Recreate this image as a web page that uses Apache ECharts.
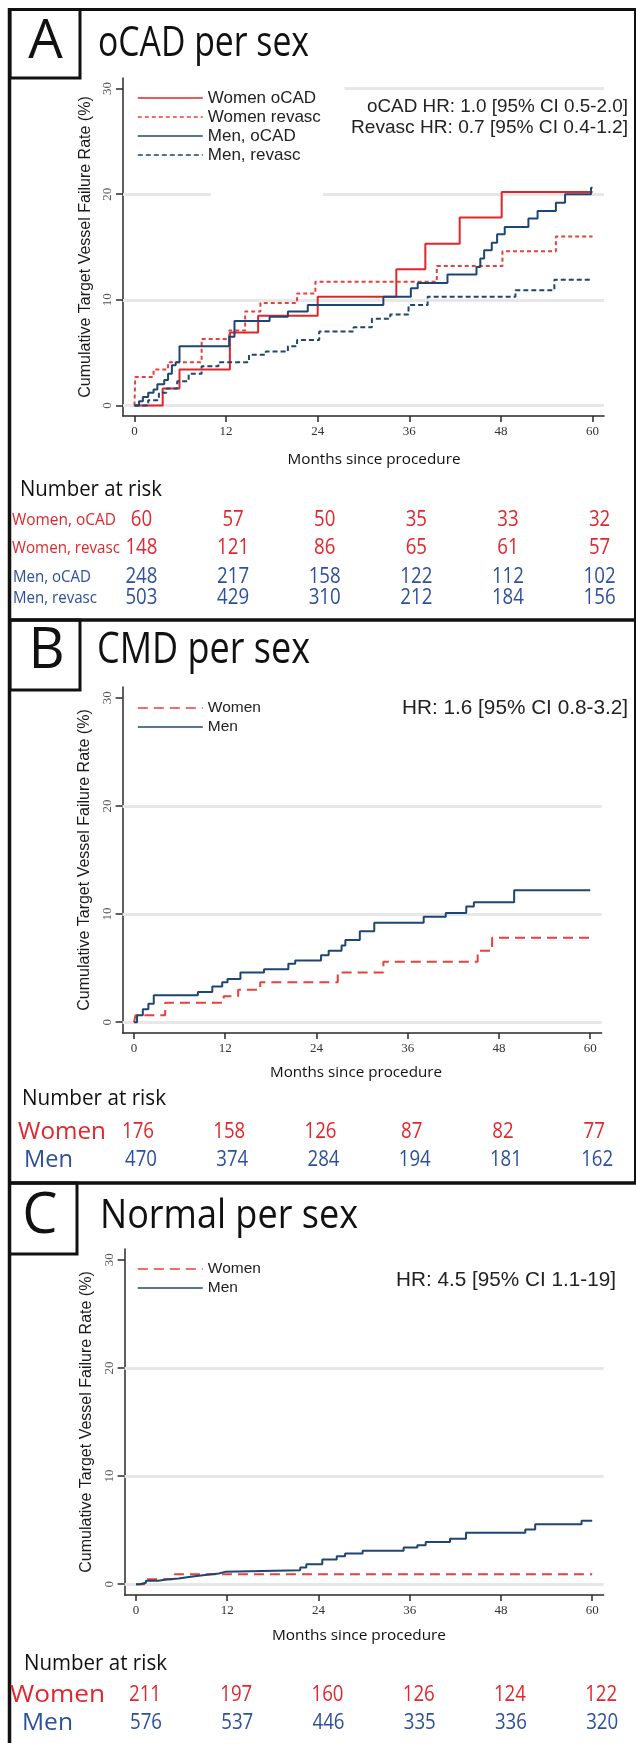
<!DOCTYPE html>
<html><head><meta charset="utf-8">
<script src="https://cdn.jsdelivr.net/npm/echarts@6/dist/echarts.min.js"></script>
<style>html,body{margin:0;padding:0;background:#fff}#c{width:636px;height:1743px}</style>
</head><body><div id="c"></div>
<script>
// ---------- DATA ----------
const monthTicks = [0, 12, 24, 36, 48, 60];
const rateTicks = [0, 10, 20, 30];

// Panel A (oCAD per sex) — [month, cumulative %]
const A_womenOCAD = [[0,0],[3.7,1.6],[5.9,3.4],[12.5,6.9],[16.2,8.5],[24,10.3],[34.3,12.9],[38.1,15.3],[42.6,17.8],[48.1,20.2],[60,20.2]];
const A_womenRevasc = [[0,0],[0.1,2.7],[2.5,3.4],[4.4,4.1],[8.8,6.3],[12.4,7.1],[14.5,8.9],[16.5,9.7],[21.3,10.6],[23.7,11.7],[39.6,13.2],[48.2,14.6],[55.2,16.0],[60,16.0]];
const A_menOCAD = [[0,0],[0.6,0.4],[1.1,0.8],[1.8,1.2],[2.5,1.5],[3.0,2.0],[3.9,2.4],[4.4,3.0],[4.9,3.8],[5.4,4.1],[5.9,5.6],[12.4,6.5],[13.1,8.0],[17.7,8.4],[20.1,8.9],[22.7,9.5],[32.6,10.3],[36.2,11.1],[37.1,11.6],[41.0,12.4],[44.8,13.1],[45.3,13.9],[45.8,14.7],[46.8,15.4],[47.5,16.2],[48.5,16.9],[51.6,17.7],[52.8,18.4],[55.2,19.2],[56.4,20.0],[59.8,20.6],[60,20.6]];
const A_menRevasc = [[0,0],[1.8,0.5],[3.2,1.2],[4.2,1.6],[5.6,2.3],[7.1,3.0],[8.8,3.7],[11.0,4.1],[15.0,4.8],[17.2,5.1],[20.1,5.6],[21.3,6.2],[24.2,7.0],[28.7,7.4],[31.1,8.2],[33.5,8.6],[35.9,9.5],[38.4,10.3],[49.9,10.9],[55.0,11.9],[60,11.9]];

// Panel B (CMD per sex)
const B_women = [[0,0],[0.2,0.65],[4.1,1.8],[11.8,2.4],[13.7,3.0],[16.6,3.7],[26.8,4.6],[32.8,5.6],[45.2,6.6],[47.1,7.8],[60,7.8]];
const B_men = [[0,0],[0.4,0.65],[1.16,1.2],[1.89,1.7],[2.6,2.5],[8.4,2.8],[10.3,3.3],[11.6,3.7],[12.3,4.0],[14.0,4.6],[17.1,4.9],[20.3,5.4],[21.2,5.7],[24.6,6.2],[25.6,6.6],[27.3,7.1],[27.8,7.6],[29.7,8.4],[31.6,9.2],[38.1,9.75],[41.0,10.1],[43.7,10.7],[44.7,11.1],[50.0,12.2],[60,12.2]];

// Panel C (Normal per sex)
const C_women = [[0,0],[1.1,0.45],[5.1,0.93],[60,0.93]];
const C_men = [[0,0],[0.5,0.13],[1.3,0.32],[2.9,0.43],[4.0,0.52],[5.6,0.68],[7.2,0.83],[8.8,0.99],[10.9,1.14],[11.7,1.3],[21.6,1.55],[22.4,1.85],[24.5,2.28],[26.4,2.59],[27.5,2.84],[29.8,3.09],[35.2,3.4],[37.0,3.6],[38.1,3.9],[41.3,4.2],[43.4,4.75],[51.2,5.06],[52.5,5.55],[58.6,5.86],[60,5.86]];

// Numbers at risk
const riskA_womenOCAD = [60, 57, 50, 35, 33, 32];
const riskA_womenRevasc = [148, 121, 86, 65, 61, 57];
const riskA_menOCAD = [248, 217, 158, 122, 112, 102];
const riskA_menRevasc = [503, 429, 310, 212, 184, 156];
const riskB_women = [176, 158, 126, 87, 82, 77];
const riskB_men = [470, 374, 284, 194, 181, 162];
const riskC_women = [211, 197, 160, 126, 124, 122];
const riskC_men = [576, 537, 446, 335, 336, 320];

// ---------- STYLE ----------
const RED = '#e1262b', RED2 = '#e8403a', BLUE = '#1f4573';
const TRED = '#e3262d', TBLUE = '#2c4f9e';
const GRIDC = '#e7e7e7';
const yTitle = 'Cumulative Target Vessel Failure Rate (%)';

const grids = [
  {left: 123, top: 78, width: 481, height: 338},
  {left: 122.6, top: 687, width: 479, height: 346},
  {left: 124.6, top: 1249, width: 479, height: 346}
];

function xAx(i) {
  return {type: 'value', gridIndex: i, min: -1.5, max: 61.5,
    axisLine: {show: true, onZero: false, lineStyle: {color: '#2a2a2a', width: 1.5}},
    axisTick: {show: true, length: 6, customValues: monthTicks, lineStyle: {color: '#2a2a2a', width: 1.5}},
    axisLabel: {customValues: monthTicks, margin: 9, fontFamily: 'Liberation Serif', fontSize: 13, color: '#333'},
    splitLine: {show: false}};
}
function yAx(i) {
  return {type: 'value', gridIndex: i, min: -1, max: 31,
    name: yTitle, nameLocation: 'middle', nameGap: 23, nameRotate: 90,
    nameTextStyle: {fontFamily: 'Liberation Sans', fontSize: 16, color: '#1a1a1a'},
    axisLine: {show: true, onZero: false, lineStyle: {color: '#2a2a2a', width: 1.5}},
    axisTick: {show: true, length: 7, customValues: rateTicks, lineStyle: {color: '#2a2a2a', width: 1.5}},
    axisLabel: {customValues: rateTicks, rotate: 90, margin: 9, fontFamily: 'Liberation Serif', fontSize: 13, color: '#555'},
    splitLine: {show: false}};
}
function curve(name, i, data, color, type) {
  return {type: 'line', name: name, xAxisIndex: i, yAxisIndex: i, data: data, step: 'end',
    symbol: 'none', showSymbol: false, z: 3,
    lineStyle: {color: color, width: 2, type: type}, itemStyle: {color: color}};
}
function gridSeries(i, lines) {
  return {type: 'line', name: 'grid' + i, xAxisIndex: i, yAxisIndex: i, data: [], z: 1,
    markLine: {silent: true, symbol: 'none', z: 1, animation: false, label: {show: false},
      lineStyle: {color: GRIDC, width: 3, type: 'solid'}, data: lines}};
}

const series = [
  gridSeries(0, [{yAxis: 0}, {yAxis: 10},
    [{coord: [-1.5, 20]}, {coord: [10, 20]}],
    [{coord: [24.7, 20]}, {coord: [61.5, 20]}],
    [{coord: [27.5, 30]}, {coord: [61.5, 30]}]]),
  curve('Women oCAD', 0, A_womenOCAD, RED, 'solid'),
  curve('Women revasc', 0, A_womenRevasc, RED2, [4, 3]),
  curve('Men, oCAD', 0, A_menOCAD, BLUE, 'solid'),
  curve('Men, revasc', 0, A_menRevasc, BLUE, [5, 3]),
  gridSeries(1, [{yAxis: 0}, {yAxis: 10}, {yAxis: 20}]),
  curve('Women', 1, B_women, RED2, [10, 6]),
  curve('Men', 1, B_men, BLUE, 'solid'),
  gridSeries(2, [{yAxis: 0}, {yAxis: 10}, {yAxis: 20}]),
  curve('Women', 2, C_women, RED2, [10, 6]),
  curve('Men', 2, C_men, BLUE, 'solid')
];

function legend(top, fs, names) {
  return {orient: 'vertical', left: 137, top: top, itemWidth: 65, itemHeight: 12, itemGap: 1,
    padding: 0, selectedMode: false,
    itemStyle: {color: 'rgba(0,0,0,0)', borderColor: 'rgba(0,0,0,0)', borderWidth: 0, opacity: 0},
    lineStyle: {width: 1.6},
    textStyle: {fontFamily: 'Liberation Sans', fontSize: fs, color: '#222', lineHeight: 18},
    data: names};
}

const chart = echarts.init(document.getElementById('c'), null, {renderer: 'canvas'});
chart.setOption({
  animation: false,
  backgroundColor: '#fff',
  grid: grids,
  xAxis: [xAx(0), xAx(1), xAx(2)],
  yAxis: [yAx(0), yAx(1), yAx(2)],
  legend: [
    legend(89, 17, ['Women oCAD', 'Women revasc', 'Men, oCAD', 'Men, revasc']),
    legend(699, 15.5, ['Women', 'Men']),
    legend(1260, 15.5, ['Women', 'Men'])
  ],
  series: series
});

// ---------- TEXT / FRAME (graphic) ----------
const mctx = document.createElement('canvas').getContext('2d');
const CAP = {'Open Sans': 0.714, 'Liberation Sans': 0.716};
function measure(str, fs, fam) { mctx.font = fs + 'px "' + fam + '"'; return mctx.measureText(str).width; }
function T(str, o) {
  const fam = o.fam || 'Open Sans';
  const fs = o.fs || o.capH / CAP[fam];
  let sx = o.sx || 1;
  if (o.w) sx = o.w / measure(str, fs, fam);
  const al = o.align || 'left';
  return {type: 'text', x: o.x, y: o.y, scaleX: sx, z: 10, silent: true,
    style: {text: str, fill: o.fill || '#111', font: fs + 'px "' + fam + '"',
      align: al, textAlign: al, verticalAlign: 'middle', textVerticalAlign: 'middle'}};
}
const K = '#111';
const g = [];
g.push({type: 'line', shape: {x1: 9.5, y1: 8, x2: 9.5, y2: 1743}, style: {stroke: K, lineWidth: 3.5}});
g.push({type: 'line', shape: {x1: 8, y1: 9.5, x2: 636, y2: 9.5}, style: {stroke: K, lineWidth: 3}});
g.push({type: 'line', shape: {x1: 8, y1: 620, x2: 636, y2: 620}, style: {stroke: K, lineWidth: 3.5}});
g.push({type: 'line', shape: {x1: 8, y1: 1183, x2: 636, y2: 1183}, style: {stroke: K, lineWidth: 3.5}});
g.push({type: 'line', shape: {x1: 635, y1: 8, x2: 635, y2: 1183}, style: {stroke: K, lineWidth: 2}});
[[10, 9.5, 70, 68.5], [10, 620, 70, 70], [9.5, 1183, 67.5, 71]].forEach(function (r) {
  g.push({type: 'rect', shape: {x: r[0], y: r[1], width: r[2], height: r[3]}, style: {fill: 'none', stroke: K, lineWidth: 3}});
});
g.push(T('A', {x: 45.5, y: 42.5, capH: 39, align: 'center'}));
g.push(T('B', {x: 46.5, y: 652, capH: 40, align: 'center'}));
g.push(T('C', {x: 40, y: 1217, capH: 40, align: 'center'}));
g.push(T('oCAD per sex', {x: 98, y: 44, capH: 30, w: 211}));
g.push(T('CMD per sex', {x: 97, y: 651, capH: 31, w: 213}));
g.push(T('Normal per sex', {x: 100, y: 1216, capH: 29, w: 258}));

g.push(T('oCAD HR: 1.0 [95% CI 0.5-2.0]', {x: 628, y: 107, fs: 19, fam: 'Liberation Sans', w: 261, align: 'right', fill: '#222'}));
g.push(T('Revasc HR: 0.7 [95% CI 0.4-1.2]', {x: 628, y: 128, fs: 19, fam: 'Liberation Sans', w: 277, align: 'right', fill: '#222'}));
g.push(T('HR: 1.6 [95% CI 0.8-3.2]', {x: 628, y: 708, fs: 21, fam: 'Liberation Sans', w: 226, align: 'right', fill: '#222'}));
g.push(T('HR: 4.5 [95% CI 1.1-19]', {x: 616, y: 1280, fs: 21, fam: 'Liberation Sans', w: 220, align: 'right', fill: '#222'}));

g.push(T('Months since procedure', {x: 374, y: 460, capH: 10.5, w: 173, align: 'center'}));
g.push(T('Months since procedure', {x: 356, y: 1073, capH: 10.5, w: 172, align: 'center'}));
g.push(T('Months since procedure', {x: 359, y: 1636, capH: 10.5, w: 174, align: 'center'}));

g.push(T('Number at risk', {x: 20, y: 490, capH: 16, w: 142}));
g.push(T('Number at risk', {x: 22, y: 1099, capH: 16, w: 144}));
g.push(T('Number at risk', {x: 24, y: 1664, capH: 16, w: 143}));

// row labels
g.push(T('Women, oCAD', {x: 12, y: 520, capH: 12, w: 104, fill: TRED}));
g.push(T('Women, revasc', {x: 12, y: 548, capH: 12, w: 108, fill: TRED}));
g.push(T('Men, oCAD', {x: 13, y: 577, capH: 12, w: 78, fill: TBLUE}));
g.push(T('Men, revasc', {x: 13, y: 598, capH: 12, w: 84, fill: TBLUE}));
g.push(T('Women', {x: 18, y: 1132, capH: 17, w: 88, fill: TRED}));
g.push(T('Men', {x: 24, y: 1160, capH: 17, w: 49, fill: TBLUE}));
g.push(T('Women', {x: 10, y: 1695, capH: 17, w: 95, fill: TRED}));
g.push(T('Men', {x: 22, y: 1723, capH: 17, w: 51, fill: TBLUE}));

// risk values placed under the month ticks through the axis scale
const VFS = 22.4;
const vsx = 32 / measure('000', VFS, 'Open Sans');
function riskRow(gi, vals, y, color, off) {
  vals.forEach(function (v, k) {
    const px = chart.convertToPixel({gridIndex: gi}, [monthTicks[k], 0])[0];
    g.push(T(String(v), {x: px + off, y: y, fs: VFS, sx: vsx, align: 'center', fill: color}));
  });
}
riskRow(0, riskA_womenOCAD, 520, TRED, 7);
riskRow(0, riskA_womenRevasc, 548, TRED, 7);
riskRow(0, riskA_menOCAD, 577, TBLUE, 7);
riskRow(0, riskA_menRevasc, 598, TBLUE, 7);
riskRow(1, riskB_women, 1132, TRED, 4);
riskRow(1, riskB_men, 1160, TBLUE, 7);
riskRow(2, riskC_women, 1695, TRED, 9);
riskRow(2, riskC_men, 1723, TBLUE, 10);

chart.setOption({graphic: g});
</script></body></html>
